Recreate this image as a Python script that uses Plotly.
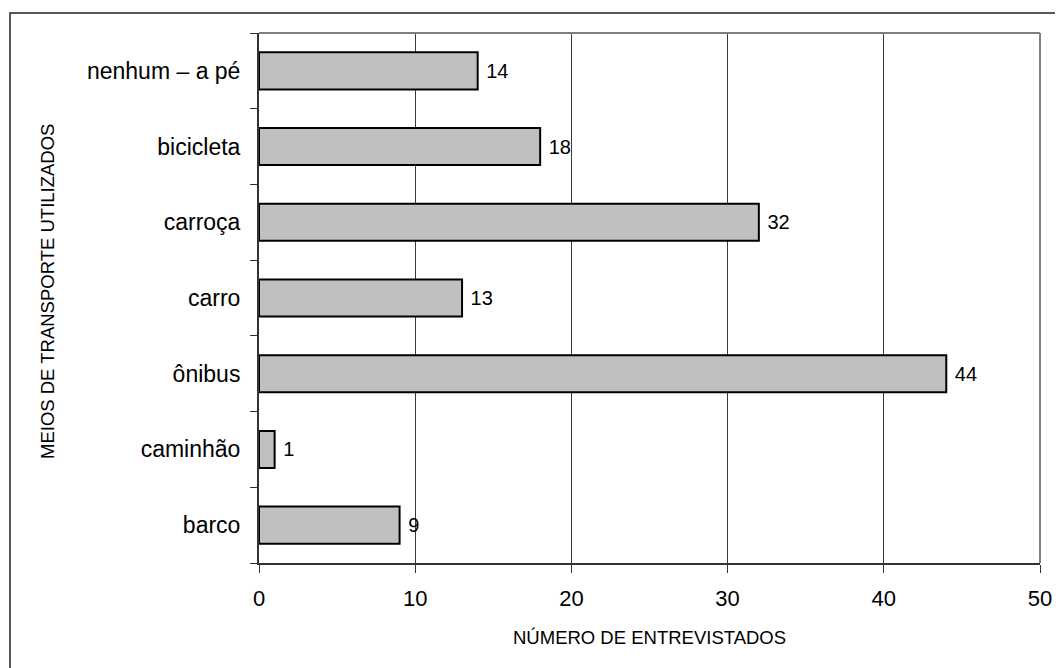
import plotly.graph_objects as go

categories = ["barco", "caminhão", "ônibus", "carro", "carroça", "bicicleta", "nenhum – a pé"]
values = [9, 1, 44, 13, 32, 18, 14]
x_ticks = [0, 10, 20, 30, 40, 50]

FONT = "Liberation Sans, Arial, sans-serif"

# page body has an 8px default margin; size the figure so the plot lands where intended
W, H = 1055, 660
ML, MT, MR, MB = 251, 25, 23, 105
PW = W - ML - MR  # 781
PH = H - MT - MB  # 530

fig = go.Figure()
fig.add_trace(go.Bar(
    y=categories, x=values, orientation="h",
    marker=dict(color="#C0C0C0", line=dict(color="black", width=2)),
    width=0.49,
    text=[f" {v}" for v in values], textposition="outside",
    textfont=dict(family=FONT, size=20, color="black"),
    cliponaxis=False,
))

fig.update_layout(
    width=W, height=H,
    margin=dict(l=ML, r=MR, t=MT, b=MB),
    paper_bgcolor="white", plot_bgcolor="white",
    showlegend=False,
    font=dict(family=FONT, color="black"),
    xaxis=dict(
        range=[0, 50], tickvals=x_ticks, ticktext=[str(t) for t in x_ticks],
        showgrid=True, gridcolor="#3a3a3a", gridwidth=1,
        zeroline=False, showline=True, linecolor="#333333", linewidth=2,
        ticks="outside", ticklen=8, tickcolor="#333333",
        tickfont=dict(size=22, family=FONT, color="black"),
        ticklabelstandoff=7,
    ),
    yaxis=dict(
        type="category", categoryorder="array", categoryarray=categories,
        showgrid=False, zeroline=False, showline=True, linecolor="#333333", linewidth=2,
        ticks="outside", ticklen=7, tickcolor="#333333", tickson="boundaries",
        tickfont=dict(size=23, family=FONT, color="black"),
        ticklabelstandoff=12,
    ),
    shapes=[
        dict(type="line", xref="paper", yref="paper", x0=0, x1=1, y0=1, y1=1,
             line=dict(color="#808080", width=2)),
        dict(type="line", xref="paper", yref="paper", x0=1, x1=1, y0=0, y1=1,
             line=dict(color="#808080", width=2)),
        dict(type="rect", xref="paper", yref="paper",
             x0=(2 - ML) / PW, x1=(W - 1 - ML) / PW, y0=-(MB + 40) / PH, y1=1 + (MT - 5) / PH,
             line=dict(color="#222222", width=1.5), layer="below"),
    ],
    annotations=[
        dict(text="NÚMERO DE ENTREVISTADOS", xref="paper", yref="paper",
             x=0.5, y=-(637 - 563) / PH, xanchor="center", yanchor="middle", showarrow=False,
             font=dict(size=18.5, family=FONT, color="black")),
        dict(text="MEIOS DE TRANSPORTE UTILIZADOS", xref="paper", yref="paper",
             x=(47 - 259) / PW, y=(563 - 292) / PH, xanchor="center", yanchor="middle",
             showarrow=False, textangle=-90,
             font=dict(size=18.5, family=FONT, color="black")),
    ],
)

fig.write_html("out.html")
